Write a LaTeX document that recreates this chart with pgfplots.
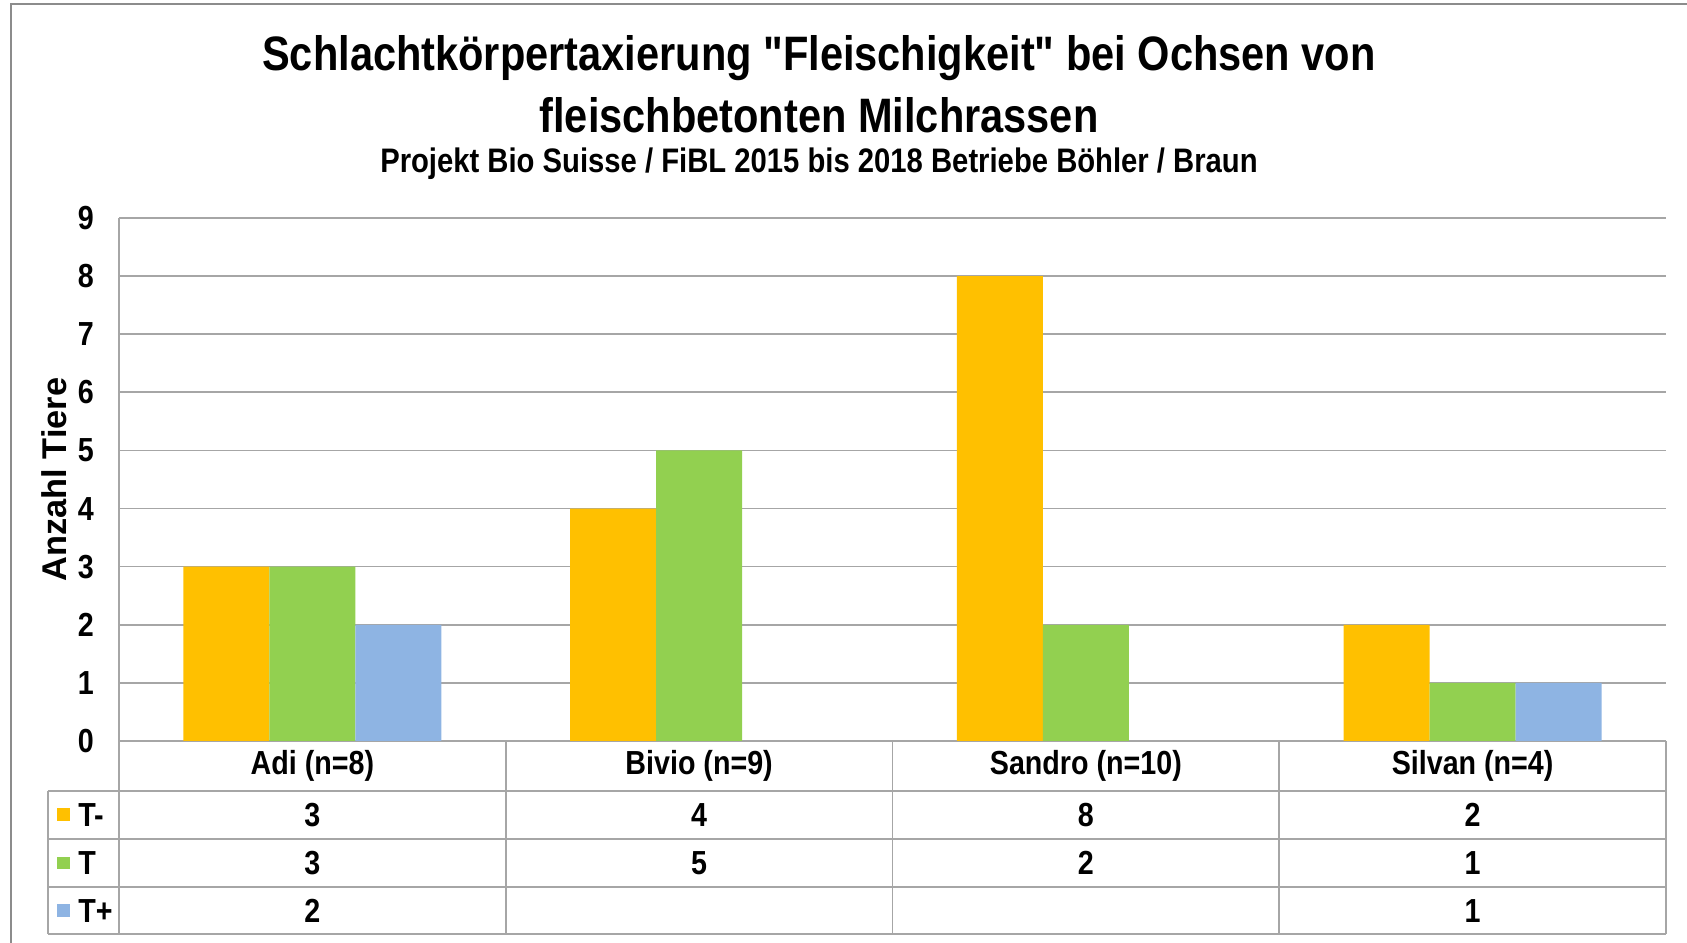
\documentclass[border=0pt]{standalone}
\usepackage{fontspec}
\setmainfont{Liberation Sans}[FakeStretch=0.86, Ligatures=TeXOff]
\newfontfamily\rotfont{Liberation Sans}
\usepackage{pgfplots}
\pgfplotsset{compat=1.18}
\usepackage{pgfplotstable}

\definecolor{tminus}{HTML}{FFC000}
\definecolor{tnorm}{HTML}{92D050}
\definecolor{tplus}{HTML}{8EB4E3}
\definecolor{gridgray}{HTML}{A6A6A6}
\definecolor{framegray}{HTML}{8C8C8C}

% one table per series (x = category index)
\pgfplotstableread{
x v
0 3
1 4
2 8
3 2
}\Tm
\pgfplotstableread{
x v
0 3
1 5
2 2
3 1
}\Tn
\pgfplotstableread{
x v
0 2
3 1
}\Tp

\newcommand\labfont{\fontsize{10}{12}\selectfont\bfseries}

\begin{document}
\begin{tikzpicture}
% 1 px of the reference = 0.3pt
\path[use as bounding box] (0pt,0pt) rectangle (506.1pt,-282.9pt);
\draw[framegray, line width=0.6pt] (3.3pt,-282.9pt) -- (3.3pt,-1.2pt) -- (506.1pt,-1.2pt);

\node[font=\fontsize{14.5}{17}\selectfont\bfseries] at (245.7pt,-17.4pt) {Schlachtkörpertaxierung "Fleischigkeit" bei Ochsen von};
\node[font=\fontsize{14.5}{17}\selectfont\bfseries] at (245.7pt,-34.5pt) {fleischbetonten Milchrassen};
\node[font=\fontsize{10.2}{12}\selectfont\bfseries] at (245.7pt,-49.2pt) {Projekt Bio Suisse / FiBL 2015 bis 2018 Betriebe Böhler / Braun};

\begin{axis}[
  at={(35.7pt,-222.3pt)}, anchor=south west,
  scale only axis, width=464.1pt, height=156.9pt,
  xmin=-0.5, xmax=3.5, ymin=0, ymax=9,
  clip=false,
  axis lines*=left,
  axis line style={draw=gridgray, line width=0.5pt, -},
  ymajorgrids, grid style={gridgray, line width=0.5pt},
  major tick length=0pt,
  ytick={0,1,...,9},
  xtick={0,1,2,3},
  xticklabels={Adi (n=8), Bivio (n=9), Sandro (n=10), Silvan (n=4)},
  tick label style={font=\labfont},
  /pgf/number format/assume math mode=true,
  yticklabel style={anchor=east, xshift=-4pt},
  xticklabel style={anchor=center, yshift=-7.5pt},
  ylabel={Anzahl Tiere},
  ylabel style={at={(axis description cs:0,0.5)}, anchor=center, yshift=19.5pt,
    font=\rotfont\fontsize{10.3}{12}\selectfont\bfseries},
  every node near coord/.style={anchor=center, font=\labfont},
]
\addplot[ybar, bar width=25.8pt, bar shift=-25.8pt, fill=tminus, draw=none] table[x=x,y=v]{\Tm};
\addplot[ybar, bar width=25.8pt, bar shift=0pt, fill=tnorm, draw=none] table[x=x,y=v]{\Tn};
\addplot[ybar, bar width=25.8pt, bar shift=25.8pt, fill=tplus, draw=none] table[x=x,y=v]{\Tp};

% data table below the plot
\addplot[draw=none, mark=none, nodes near coords, point meta=explicit] table[x=x, y expr=-1.27, meta=v]{\Tm};
\addplot[draw=none, mark=none, nodes near coords, point meta=explicit] table[x=x, y expr=-2.10, meta=v]{\Tn};
\addplot[draw=none, mark=none, nodes near coords, point meta=explicit] table[x=x, y expr=-2.92, meta=v]{\Tp};

\draw[gridgray, line width=0.5pt]
  (axis cs:-0.684,-0.86) -- (axis cs:3.5,-0.86)
  (axis cs:-0.684,-1.69) -- (axis cs:3.5,-1.69)
  (axis cs:-0.684,-2.51) -- (axis cs:3.5,-2.51)
  (axis cs:-0.684,-3.32) -- (axis cs:3.5,-3.32)
  (axis cs:-0.684,-0.86) -- (axis cs:-0.684,-3.32)
  (axis cs:-0.5,0) -- (axis cs:-0.5,-3.32)
  (axis cs:0.5,0) -- (axis cs:0.5,-3.32)
  (axis cs:1.5,0) -- (axis cs:1.5,-3.32)
  (axis cs:2.5,0) -- (axis cs:2.5,-3.32)
  (axis cs:3.5,0) -- (axis cs:3.5,-3.32);

\fill[tminus] (axis cs:-0.660,-1.16) rectangle (axis cs:-0.627,-1.38);
\fill[tnorm]  (axis cs:-0.660,-1.99) rectangle (axis cs:-0.627,-2.21);
\fill[tplus]  (axis cs:-0.660,-2.81) rectangle (axis cs:-0.627,-3.03);
\node[anchor=west, font=\labfont, inner sep=0pt] at (axis cs:-0.607,-1.27) {T-};
\node[anchor=west, font=\labfont, inner sep=0pt] at (axis cs:-0.607,-2.10) {T};
\node[anchor=west, font=\labfont, inner sep=0pt] at (axis cs:-0.607,-2.92) {T+};
\end{axis}
\end{tikzpicture}
\end{document}
